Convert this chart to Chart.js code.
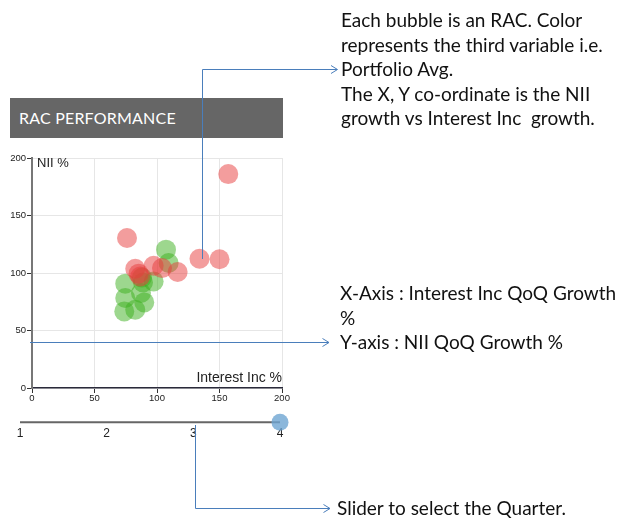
<!DOCTYPE html>
<html>
<head>
<meta charset="utf-8">
<script src="https://cdn.jsdelivr.net/npm/chart.js@4.4.1/dist/chart.umd.min.js"></script>
<style>
    html, body { margin: 0; padding: 0; background: #fff; }
    #page { position: relative; width: 638px; height: 524px; overflow: hidden; }
    #bubble-chart { position: absolute; left: 0; top: 0; }
    #slider-chart { position: absolute; left: 0; top: 400px; }
    #title-bar {
        position: absolute; left: 10px; top: 98px; width: 273px; height: 40px;
        background: #666666; color: #fff;
        font-family: 'Lato', sans-serif; font-size: 16px; line-height: 40px;
        padding-left: 9px; box-sizing: border-box; letter-spacing: 0.2px;
    }
    .note {
        position: absolute; font-family: 'Lato', sans-serif; font-size: 19px;
        line-height: 24.5px; color: #111; white-space: nowrap;
    }
    #arrows { position: absolute; left: 0; top: 0; pointer-events: none; }
</style>
</head>
<body>
<div id="page">
    <div id="title-bar">RAC PERFORMANCE</div>
    <canvas id="bubble-chart" width="638" height="524"></canvas>
    <canvas id="slider-chart" width="300" height="50"></canvas>
    <div class="note" style="left:341px; top:8px;">Each bubble is an RAC. Color<br>represents the third variable i.e.<br>Portfolio Avg.<br>The X, Y co-ordinate is the NII<br>growth vs Interest Inc&nbsp; growth.</div>
    <div class="note" style="left:340px; top:281px;">X-Axis : Interest Inc QoQ Growth<br>%<br>Y-axis : NII QoQ Growth %</div>
    <div class="note" style="left:337px; top:496px;">Slider to select the Quarter.</div>
    <svg id="arrows" width="638" height="524">
        <g fill="none" stroke="#4a7ebb" stroke-width="1">
            <polyline points="202.5,259 202.5,69.5 337,69.5" />
            <polyline points="331,65.5 337.5,69.5 331,73.5" />
            <polyline points="30,342.5 329,342.5" />
            <polyline points="322.5,338.5 329,342.5 322.5,346.5" />
            <polyline points="195.5,425 195.5,508.5 330,508.5" />
            <polyline points="323.5,504.5 330,508.5 323.5,512.5" />
        </g>
    </svg>
</div>
<script>
// RACs above / below portfolio average, x = Interest Inc growth %, y = NII growth %
const aboveAvgX = [157, 76, 134, 150, 82.6, 97.3, 104, 116.5, 85.3, 86.6];
const aboveAvgY = [186, 130.4, 112.4, 112, 103.7, 106.3, 104.3, 100.9, 99.4, 97];
const belowAvgX = [107.2, 109.3, 74.6, 74.6, 73.8, 82.6, 89.8, 87.2, 88.8, 97.3, 88];
const belowAvgY = [120.3, 108.7, 90.7, 78.3, 66.6, 68, 74.4, 82.6, 91.8, 92.7, 96];
const axisTicks = [0, 50, 100, 150, 200];
const quarters = [1, 2, 3, 4];
const selectedQuarter = 4;

const BUBBLE_R = 10;

function toPoints(xs, ys) {
    return xs.map((x, i) => ({ x: x, y: ys[i], r: BUBBLE_R }));
}

// axis titles sit inside the plot area
const innerTitles = {
    id: 'innerTitles',
    afterDraw(chart) {
        const ctx = chart.ctx;
        const area = chart.chartArea;
        ctx.save();
        ctx.fillStyle = '#222';
        ctx.font = '13px "Liberation Sans", Arial, sans-serif';
        ctx.textBaseline = 'middle';
        ctx.textAlign = 'left';
        ctx.fillText('NII %', area.left + 5, area.top + 5);
        ctx.font = '14px "Liberation Sans", Arial, sans-serif';
        ctx.textAlign = 'right';
        ctx.fillText('Interest Inc %', area.right, area.bottom - 10);
        ctx.restore();
    }
};

const tickFont = { family: '"Liberation Sans", Arial, sans-serif', size: 9.5 };

new Chart(document.getElementById('bubble-chart'), {
    type: 'bubble',
    data: {
        datasets: [
            // first dataset is painted last, so red sits on top of green
            {
                label: 'Above Portfolio Avg.',
                data: toPoints(aboveAvgX, aboveAvgY),
                backgroundColor: 'rgba(232, 60, 60, 0.5)',
                borderWidth: 0,
                clip: false
            },
            {
                label: 'Below Portfolio Avg.',
                data: toPoints(belowAvgX, belowAvgY),
                backgroundColor: 'rgba(60, 175, 30, 0.5)',
                borderWidth: 0,
                clip: false
            }
        ]
    },
    options: {
        responsive: false,
        animation: false,
        events: [],
        layout: { padding: { left: 0, top: 158, right: 356, bottom: 0 } },
        scales: {
            x: {
                type: 'linear',
                min: 0,
                max: 200,
                afterFit: (scale) => { scale.height = 136; },
                afterBuildTicks: (scale) => { scale.ticks = axisTicks.map(v => ({ value: v })); },
                grid: { color: '#e6e6e6', tickColor: '#333', tickLength: 5 },
                border: { color: '#2a2a3a', width: 1.5 },
                ticks: { color: '#222', font: tickFont, padding: 0, maxRotation: 0 }
            },
            y: {
                type: 'linear',
                min: 0,
                max: 200,
                afterFit: (scale) => { scale.width = 32; },
                afterBuildTicks: (scale) => { scale.ticks = axisTicks.map(v => ({ value: v })); },
                grid: { color: '#e6e6e6', tickColor: '#333', tickLength: 5 },
                border: { color: '#777', width: 2 },
                ticks: { color: '#222', font: tickFont, padding: 1 }
            }
        },
        plugins: {
            legend: { display: false },
            tooltip: { enabled: false }
        }
    },
    plugins: [innerTitles]
});

// quarter slider
new Chart(document.getElementById('slider-chart'), {
    type: 'scatter',
    data: {
        datasets: [
            {
                data: [{ x: selectedQuarter, y: 0 }],
                pointRadius: 8.5,
                backgroundColor: 'rgba(110, 165, 210, 0.8)',
                borderWidth: 0,
                clip: false
            },
            {
                type: 'line',
                data: [{ x: quarters[0], y: 0 }, { x: quarters[quarters.length - 1], y: 0 }],
                borderColor: '#666',
                borderWidth: 2,
                pointRadius: 0,
                clip: false
            }
        ]
    },
    options: {
        responsive: false,
        animation: false,
        events: [],
        layout: { padding: { left: 20, top: 13, right: 20, bottom: 0 } },
        scales: {
            x: {
                type: 'linear',
                min: quarters[0],
                max: quarters[quarters.length - 1],
                afterFit: (scale) => { scale.height = 23; },
                afterBuildTicks: (scale) => { scale.ticks = quarters.map(v => ({ value: v })); },
                grid: { display: false },
                border: { display: false },
                ticks: { color: '#222', font: { family: '"Liberation Sans", Arial, sans-serif', size: 12 }, padding: -9 }
            },
            y: { display: false, min: -0.5, max: 1 }
        },
        plugins: {
            legend: { display: false },
            tooltip: { enabled: false }
        }
    }
});
</script>
</body>
</html>
